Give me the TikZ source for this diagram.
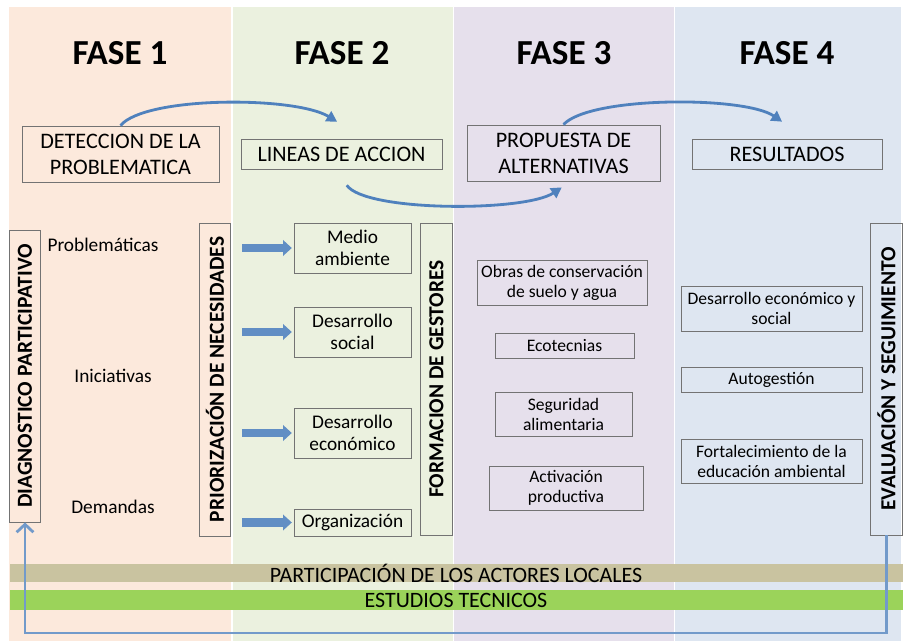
\documentclass[tikz,border=0pt]{standalone}
\usepackage{fontspec}
\setmainfont{Carlito}
\usetikzlibrary{arrows.meta}

\definecolor{faseuno}{HTML}{FCE9DC}
\definecolor{fasedos}{HTML}{EBF1DF}
\definecolor{fasetres}{HTML}{E6E0EC}
\definecolor{fasecuatro}{HTML}{DEE6F1}
\definecolor{bandtan}{HTML}{C9C3A0}
\definecolor{bandgreen}{HTML}{9BD35A}
\definecolor{arrowblue}{HTML}{4F81BD}

\begin{document}
\begin{tikzpicture}[x=0.02cm, y=-0.02cm,
    fase/.style={font=\fontsize{20}{24}\selectfont\bfseries},
    titlebox/.style={rectangle, draw=black!55, line width=0.5pt, align=center, inner sep=0pt, font=\fontsize{12.6}{14.8}\selectfont},
    linebox/.style={rectangle, draw=black!55, line width=0.5pt, align=center, inner sep=0pt, minimum width=2.34cm, font=\fontsize{11}{12.8}\selectfont},
    itembox/.style={rectangle, draw=black!55, line width=0.5pt, align=center, inner sep=0pt, font=\fontsize{10}{11.4}\selectfont},
    vertbox/.style={rectangle, draw=black!55, line width=0.5pt, rotate=90, inner sep=0pt, minimum height=0.63cm, font=\fontsize{12.2}{14}\selectfont\bfseries},
    itemtext/.style={font=\fontsize{11}{13}\selectfont},
    bandtext/.style={inner sep=0pt, font=\fontsize{12.5}{14}\selectfont},
    curvearrow/.style={-{Triangle[length=6pt,width=6.5pt]}, line width=1.6pt, arrowblue},
    blockarrow/.style={-{Triangle[length=5pt,width=8.8pt]}, line width=5pt, arrowblue!90!white, shorten <=6.2pt, shorten >=1pt},
    backarrow/.style={-{Straight Barb[length=4.5pt,width=9.5pt]}, line width=1.6pt, arrowblue!80!white}
]
\useasboundingbox (0,0) rectangle (903,641);

% Phase columns
\fill[faseuno] (9,7) rectangle (231,641);
\fill[fasedos] (232.5,7) rectangle (452.5,641);
\fill[fasetres] (454,7) rectangle (673.5,641);
\fill[fasecuatro] (675,7) rectangle (901,641);

\node[fase] (f1) at (120,53) {FASE 1};
\node[fase] (f2) at (342,53) {FASE 2};
\node[fase] (f3) at (564,53) {FASE 3};
\node[fase] (f4) at (787,53) {FASE 4};

% Stage boxes
\node[titlebox, minimum width=3.94cm, minimum height=1.12cm] (det) at (120.5,154) {DETECCION DE LA\\PROBLEMATICA};
\node[titlebox, minimum width=4.02cm, minimum height=0.6cm] (lin) at (341.5,154) {LINEAS DE ACCION};
\node[titlebox, minimum width=3.86cm, minimum height=1.12cm] (prop) at (563.5,153) {PROPUESTA DE\\ALTERNATIVAS};
\node[titlebox, minimum width=3.8cm, minimum height=0.6cm] (res) at (787,154) {RESULTADOS};

\draw[curvearrow] (det.north) .. controls (145,96) and (295,96) .. ([xshift=-2.5pt,yshift=9.6pt]lin.north);
\draw[curvearrow] ([xshift=3pt,yshift=-9pt]lin.south) .. controls (365,212) and (525,212) .. ([xshift=-1pt,yshift=-3.4pt]prop.south);
\draw[curvearrow] (prop.north) .. controls (590,96) and (745,96) .. ([xshift=-2.8pt,yshift=9.6pt]res.north);

% Fase 1
\node[vertbox, minimum width=5.84cm] (dia) at (25,376) {DIAGNOSTICO PARTICIPATIVO};
\node[itemtext] (prob) at (103,245) {Problemáticas};
\node[itemtext] (ini) at (113,376) {Iniciativas};
\node[itemtext] (dem) at (113,507) {Demandas};
\node[vertbox, minimum width=6.26cm] (prio) at (215,379.5) {PRIORIZACIÓN DE NECESIDADES};

% Fase 2
\node[linebox, minimum height=1cm] (med) at (352.5,248) {Medio\\ambiente};
\node[linebox, minimum height=1cm] (soc) at (352.5,332) {Desarrollo\\social};
\node[linebox, minimum height=1cm] (eco) at (352.5,433) {Desarrollo\\económico};
\node[linebox, minimum height=0.54cm] (org) at (352.5,522.5) {Organización};
\node[vertbox, minimum width=6.24cm] (form) at (436.5,379) {FORMACION DE GESTORES};

\foreach \linea in {med,soc,eco,org}
  \draw[blockarrow] (prio.south |- \linea.west) -- (\linea.west);

% Fase 3
\node[itembox, minimum width=3.4cm, minimum height=0.9cm] (obr) at (562,282.5) {Obras de conservación\\de suelo y agua};
\node[itembox, minimum width=2.78cm, minimum height=0.5cm] (ecot) at (564.5,345.5) {Ecotecnias};
\node[itembox, minimum width=2.74cm, minimum height=0.88cm] (seg) at (563.5,414) {Seguridad\\alimentaria};
\node[itembox, minimum width=3.08cm, minimum height=0.88cm] (act) at (566,488) {Activación\\productiva};

% Fase 4
\node[itembox, minimum width=3.62cm, minimum height=0.9cm] (des) at (771.5,308.5) {Desarrollo económico y\\social};
\node[itembox, minimum width=3.62cm, minimum height=0.5cm] (aut) at (771.5,379.5) {Autogestión};
\node[itembox, minimum width=3.62cm, minimum height=0.88cm] (fort) at (771.5,461) {Fortalecimiento de la\\educación ambiental};
\node[vertbox, minimum width=6.24cm] (eva) at (886.5,379) {EVALUACIÓN Y SEGUIMIENTO};

% Bands across all phases
\fill[bandtan] (10,564) rectangle (903,582);
\node[bandtext] (actores) at (456,573) {PARTICIPACIÓN DE LOS ACTORES LOCALES};
\fill[bandgreen] (10,590) rectangle (903,610);
\node[bandtext] (estudios) at (456,600) {ESTUDIOS TECNICOS};

% Feedback loop
\draw[backarrow] (eva.west) -- (eva.west |- 0,633) -| (dia.west);
\end{tikzpicture}
\end{document}
